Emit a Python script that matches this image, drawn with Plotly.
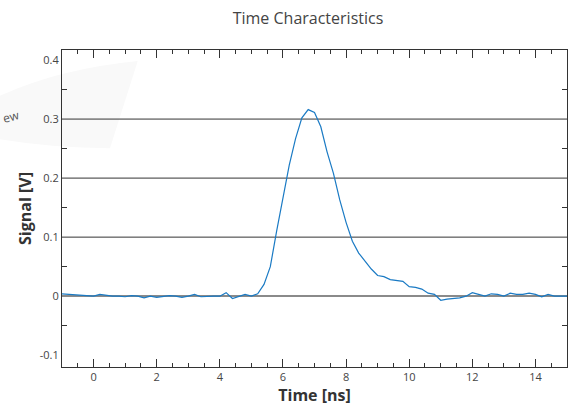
import plotly.graph_objects as go

time_ns = [-1.0, -0.8, -0.6, -0.4, -0.2, 0.0, 0.2, 0.4, 0.6, 0.8,
           1.0, 1.2, 1.4, 1.6, 1.8, 2.0, 2.2, 2.4, 2.6, 2.8,
           3.0, 3.2, 3.4, 3.6, 3.8, 4.0, 4.2, 4.4, 4.6, 4.8,
           5.0, 5.2, 5.4, 5.6, 5.8, 6.0, 6.2, 6.4, 6.6, 6.8,
           7.0, 7.2, 7.4, 7.6, 7.8, 8.0, 8.2, 8.4, 8.6, 8.8,
           9.0, 9.2, 9.4, 9.6, 9.8, 10.0, 10.2, 10.4, 10.6, 10.8,
           11.0, 11.2, 11.4, 11.6, 11.8, 12.0, 12.2, 12.4, 12.6, 12.8,
           13.0, 13.2, 13.4, 13.6, 13.8, 14.0, 14.2, 14.4, 14.6, 14.8, 15.0]
signal_v = [0.004, 0.003, 0.003, 0.001, 0.0, 0.0, 0.003, 0.001, 0.0, 0.0,
            -0.001, 0.001, 0.0, -0.003, 0.0, -0.002, 0.0, 0.001, 0.0, -0.002,
            0.0, 0.003, -0.001, 0.0, 0.0, 0.0, 0.006, -0.004, 0.0, 0.003,
            0.0, 0.004, 0.02, 0.05, 0.11, 0.168, 0.222, 0.267, 0.302, 0.316,
            0.311, 0.287, 0.244, 0.208, 0.163, 0.125, 0.093, 0.073, 0.06, 0.046,
            0.035, 0.033, 0.028, 0.027, 0.025, 0.016, 0.015, 0.012, 0.005, 0.003,
            -0.007, -0.005, -0.004, -0.003, 0.0, 0.006, 0.003, 0.0, 0.004, 0.003,
            0.0, 0.005, 0.003, 0.003, 0.005, 0.003, -0.001, 0.003, 0.0, 0.0, 0.0]
grid_levels = [0.1, 0.2, 0.3]

FONT = "Open Sans"

fig = go.Figure()
fig.add_trace(go.Scatter(x=time_ns, y=signal_v, mode="lines",
                         line=dict(color="#1a7ac4", width=1.2),
                         showlegend=False, hoverinfo="skip"))

# faint watermark band
fig.add_shape(type="path", xref="paper", yref="paper", layer="below",
              path="M -0.13 0.85 Q -0.01 0.94 0.15 0.965 L 0.095 0.69 Q -0.02 0.69 -0.13 0.72 Z",
              fillcolor="#f9f9f9", line=dict(width=0))
fig.add_annotation(text="ew", xref="paper", yref="paper", x=-0.1, y=0.789,
                   xanchor="center", yanchor="middle",
                   showarrow=False, textangle=-15,
                   font=dict(family=FONT, size=12, color="#555"))

for g in grid_levels:
    fig.add_shape(type="line", xref="paper", yref="y", x0=0, x1=1, y0=g, y1=g,
                  layer="below", line=dict(color="#333", width=1))

fig.update_layout(
    width=576, height=408,
    margin=dict(l=62, r=9, t=50, b=41, autoexpand=False),
    paper_bgcolor="white", plot_bgcolor="white",
    font=dict(family=FONT, color="#444", size=11),
    title=dict(text="Time Characteristics", x=308 / 576, xref="container", xanchor="center",
               y=1 - 18 / 408, yanchor="middle", yref="container",
               font=dict(family=FONT, size=16, color="#444")),
)
fig.update_xaxes(range=[-1, 15], dtick=2, tick0=0, automargin=False,
                 ticks="inside", ticklen=8, tickcolor="#333",
                 minor=dict(dtick=0.5, tick0=0, ticks="inside", ticklen=4, tickcolor="#333"),
                 showline=True, linecolor="#333", linewidth=1, mirror="ticks",
                 showgrid=False, zeroline=False,
                 title=dict(text="<b>Time [ns]</b>", standoff=1,
                            font=dict(family=FONT, size=16, color="#333")))
fig.update_yaxes(range=[-0.12, 0.417], automargin=False,
                 ticks="inside", ticklen=0, tickcolor="#333",
                 tickvals=[-0.1, 0, 0.1, 0.2, 0.3, 0.4],
                 ticktext=["-0.1", "0", "0.1", "0.2", "0.3", "0.4"],
                 minor=dict(tickvals=[-0.05, 0.05, 0.15, 0.25, 0.35], ticks="inside",
                            ticklen=5, tickcolor="#333"),
                 showline=True, linecolor="#333", linewidth=1, mirror="ticks",
                 showgrid=False, zeroline=True, zerolinecolor="#8a8a8a", zerolinewidth=1.8,
                 title=dict(text="<b>Signal [V]</b>", standoff=4,
                            font=dict(family=FONT, size=16, color="#333")))

fig.write_html("out.html", config={"displayModeBar": False},
               post_script="document.body.style.margin='0px';document.body.style.overflow='hidden';")
